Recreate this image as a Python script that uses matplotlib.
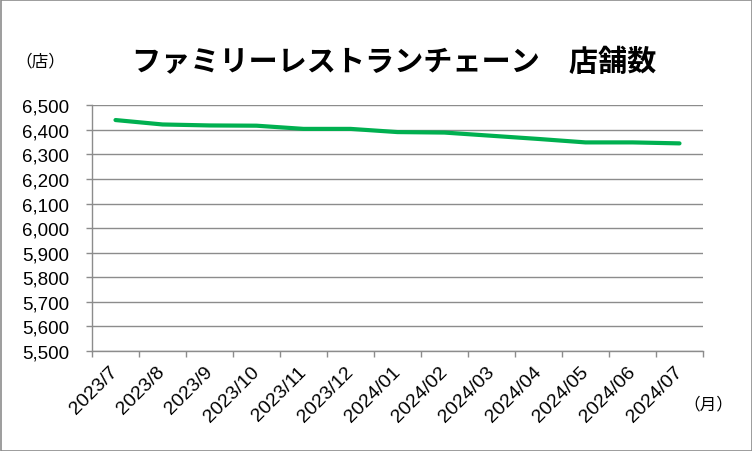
import numpy as np
import matplotlib
matplotlib.use("Agg")
from matplotlib import pyplot as plt
from matplotlib.patches import Rectangle

months = ['2023/7', '2023/8', '2023/9', '2023/10', '2023/11', '2023/12',
          '2024/01', '2024/02', '2024/03', '2024/04', '2024/05', '2024/06', '2024/07']
stores = [6440, 6422, 6418, 6417, 6404, 6404, 6391, 6389, 6376, 6363, 6349, 6349, 6345]
y_ticks = list(range(5500, 6501, 100))

title = 'ファミリーレストランチェーン　店舗数'
cjk = ['Noto Sans CJK JP', 'DejaVu Sans']

plt.rcParams['font.family'] = ['Liberation Sans', 'DejaVu Sans']

fig = plt.figure(figsize=(7.52, 4.52), dpi=100)
ax = fig.add_axes([92 / 752, 1 - 352 / 452, 611 / 752, (352 - 106.3) / 452])

x = np.arange(len(months))
ax.plot(x, stores, color='#00B050', linewidth=3, solid_capstyle='round', zorder=3)

ax.set_xlim(-0.5, len(months) - 0.5)
ax.set_ylim(5500, 6500)
ax.set_yticks(y_ticks)
ax.set_yticklabels([f'{v:,}' for v in y_ticks], fontsize=13.5)
ax.yaxis.grid(True, color='#8c8c8c', linewidth=1)
ax.set_axisbelow(True)

ax.set_xticks(x)
ax.set_xticklabels(months, fontsize=14, rotation=45, ha='right', va='center',
                   rotation_mode='anchor')
ax.set_xticks(np.arange(-0.5, len(months)), minor=True)
ax.tick_params(axis='x', which='major', length=0, pad=13)
ax.tick_params(axis='x', which='minor', length=4.5, color='#8c8c8c', width=1)
ax.tick_params(axis='y', length=4.5, color='#8c8c8c', width=1, pad=12)

for s in ['top', 'right']:
    ax.spines[s].set_visible(False)
for s in ['left', 'bottom']:
    ax.spines[s].set_color('#8c8c8c')
    ax.spines[s].set_linewidth(1)

fig.text(0.5246, 1 - 62 / 452, title, fontsize=21, fontweight='bold', family=cjk,
         ha='center', va='center')
fig.text(40 / 752, 1 - 62 / 452, '（店）', fontsize=12, family=cjk, ha='center', va='center')
fig.text(708 / 752, 1 - 405 / 452, '（月）', fontsize=12, family=cjk, ha='center', va='center')

fig.patches.append(Rectangle((0.5 / 752, 0.5 / 452), 751 / 752, 451 / 452, transform=fig.transFigure,
                             fill=False, edgecolor='#8c8c8c', linewidth=1.2))

fig.savefig('out.png', dpi=100)
